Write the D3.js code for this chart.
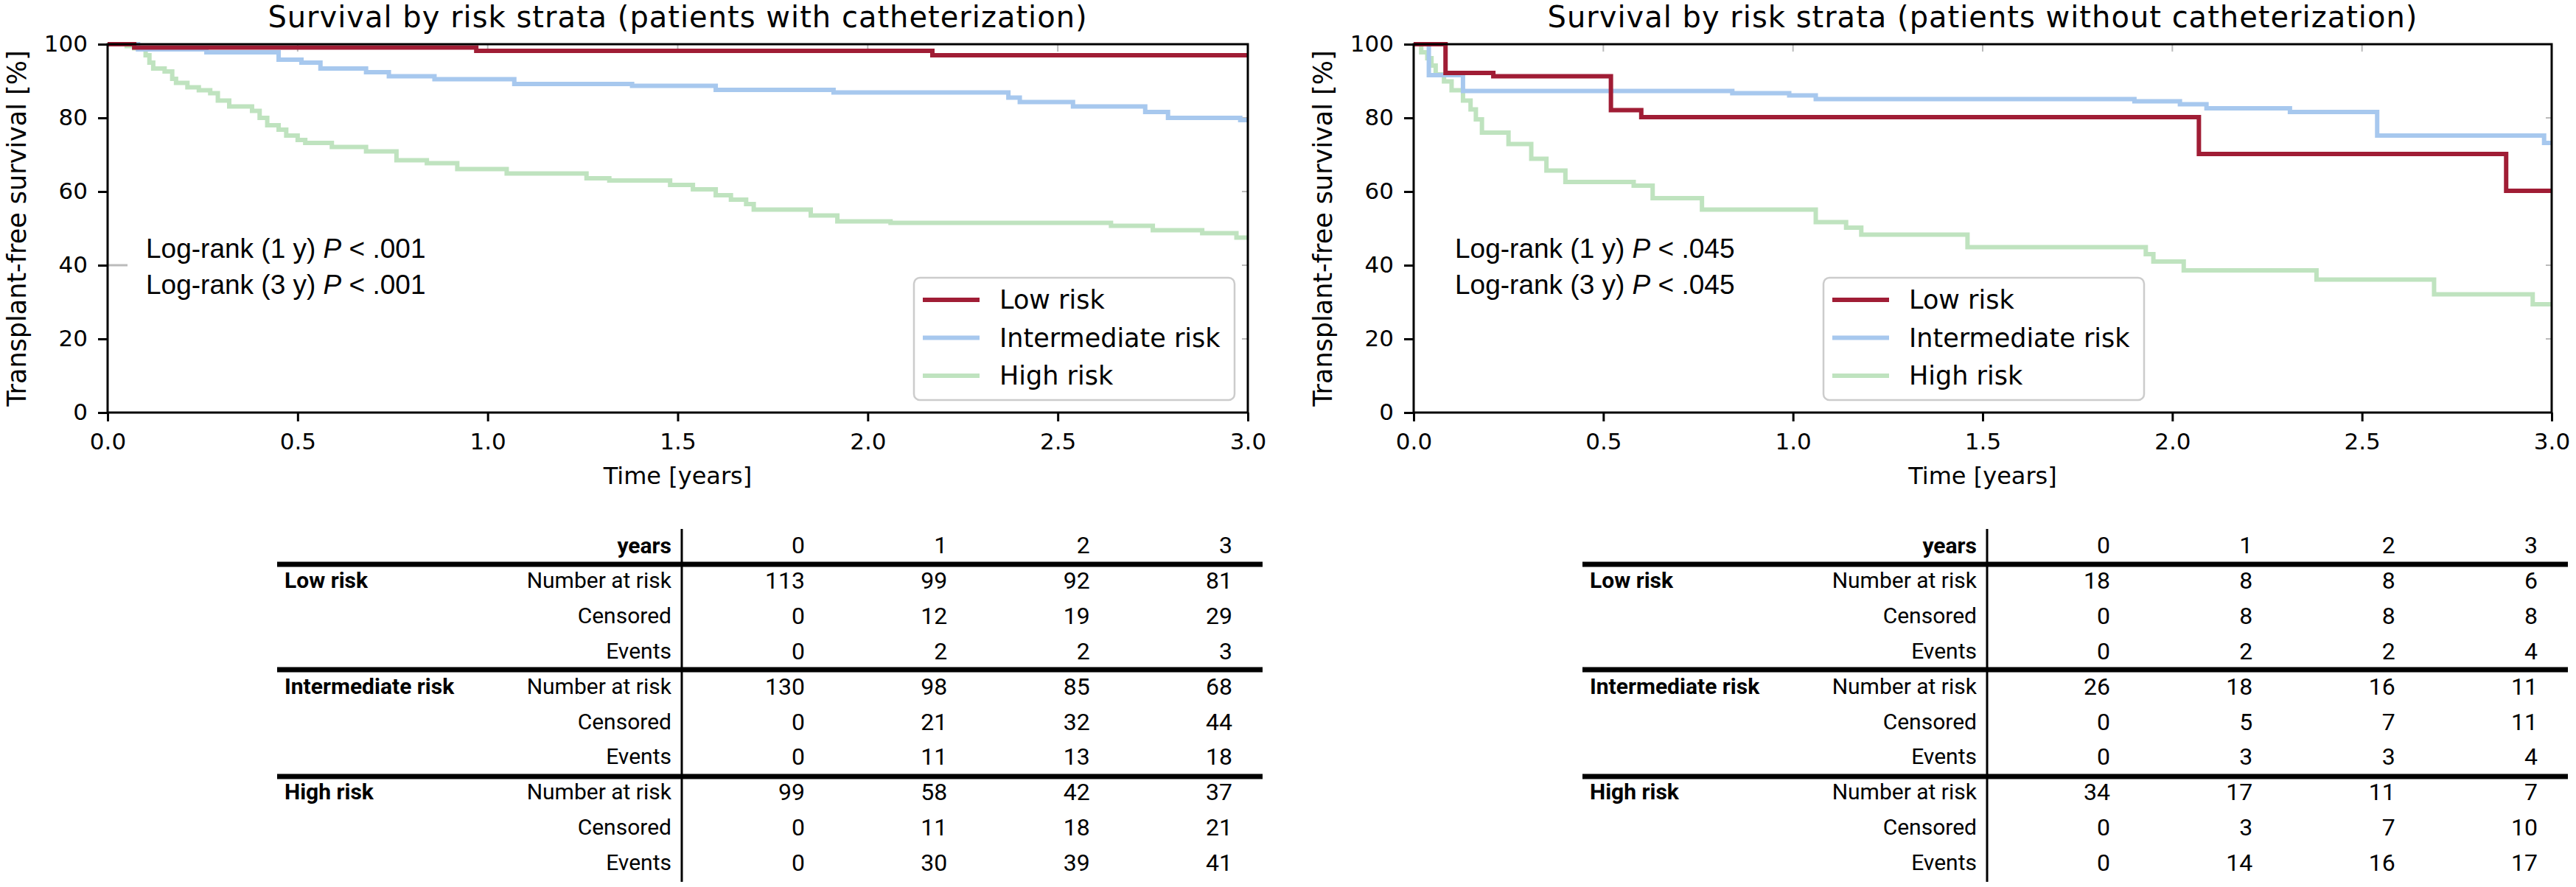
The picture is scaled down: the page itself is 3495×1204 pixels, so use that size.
<!DOCTYPE html>
<html>
<head>
<meta charset="utf-8">
<script src="https://cdn.jsdelivr.net/npm/d3@7"></script>
<style>
  body { margin: 0; background: #fff; }
  text { font-family: "DejaVu Sans", sans-serif; fill: #000; }
  .note { font-family: "Liberation Sans", Arial, sans-serif; }
  .tbl { font-family: Roboto, "DejaVu Sans", sans-serif; }
</style>
</head>
<body>
<svg id="chart"></svg>
<script>
const width = 3495, height = 1204;

// Kaplan-Meier steps: [time in years, survival %]
const withLow = [[0, 100], [0.07, 99.1], [0.97, 98.2], [2.17, 97.0]];
const withInter = [[0, 100], [0.08, 98.6], [0.26, 97.8], [0.45, 95.8], [0.51, 95.0], [0.56, 93.4],
  [0.68, 92.4], [0.74, 91.3], [0.86, 90.5], [1.07, 89.2], [1.38, 88.7], [1.6, 87.6], [1.91, 86.9],
  [2.37, 85.5], [2.4, 84.3], [2.54, 83.1], [2.73, 81.6], [2.79, 80.0], [2.98, 79.4]];
const withHigh = [[0, 100], [0.05, 99.5], [0.07, 98.9], [0.1, 97.0], [0.11, 95.0], [0.12, 93.4],
  [0.15, 92.6], [0.17, 90.6], [0.18, 89.5], [0.21, 88.3], [0.24, 87.5], [0.27, 86.7], [0.29, 84.7],
  [0.32, 83.1], [0.38, 81.9], [0.4, 80.0], [0.42, 78.0], [0.45, 76.8], [0.47, 75.2], [0.5, 74.0],
  [0.52, 73.2], [0.59, 72.1], [0.68, 70.9], [0.76, 68.5], [0.84, 67.7], [0.92, 66.1], [1.05, 64.9],
  [1.26, 63.6], [1.32, 63.0], [1.48, 61.8], [1.54, 60.6], [1.6, 59.0], [1.64, 57.8], [1.68, 56.6],
  [1.7, 55.1], [1.85, 53.5], [1.92, 51.9], [2.06, 51.5], [2.64, 50.7], [2.75, 49.5], [2.88, 48.7],
  [2.97, 47.5]];

const withoutLow = [[0, 100], [0.084, 92.2], [0.21, 91.3], [0.52, 82.1], [0.6, 80.2], [2.07, 70.2],
  [2.88, 60.2]];
const withoutInter = [[0, 100], [0.04, 91.6], [0.13, 87.3], [0.84, 86.7], [0.99, 86.1], [1.06, 85.1],
  [1.9, 84.5], [2.02, 83.7], [2.09, 82.6], [2.31, 81.6], [2.54, 75.2], [2.98, 73.2]];
const withoutHigh = [[0, 100], [0.02, 97.8], [0.036, 96.2], [0.047, 94.2], [0.058, 91.8], [0.08, 89.9],
  [0.1, 87.5], [0.13, 84.7], [0.15, 82.3], [0.164, 79.6], [0.18, 76.0], [0.25, 72.9], [0.31, 68.9],
  [0.35, 65.7], [0.4, 62.6], [0.58, 61.6], [0.63, 58.2], [0.76, 55.1], [1.06, 51.7], [1.14, 50.2],
  [1.18, 48.3], [1.46, 44.9], [1.93, 43.0], [1.95, 41.0], [2.03, 38.6], [2.38, 36.1], [2.69, 32.1],
  [2.95, 29.4]];

const strata = ["Low risk", "Intermediate risk", "High risk"];
const colors = ["#a01d35", "#a7c8ee", "#bfe3bf"];
const xTicks = [0, 0.5, 1, 1.5, 2, 2.5, 3];
const yTicks = [0, 20, 40, 60, 80, 100];

// number-at-risk tables
const tableYears = [0, 1, 2, 3];
const rowNames = ["Number at risk", "Censored", "Events"];
const withAtRisk = [[113, 99, 92, 81], [130, 98, 85, 68], [99, 58, 42, 37]];
const withCensored = [[0, 12, 19, 29], [0, 21, 32, 44], [0, 11, 18, 21]];
const withEvents = [[0, 2, 2, 3], [0, 11, 13, 18], [0, 30, 39, 41]];
const withoutAtRisk = [[18, 8, 8, 6], [26, 18, 16, 11], [34, 17, 11, 7]];
const withoutCensored = [[0, 8, 8, 8], [0, 5, 7, 11], [0, 3, 7, 10]];
const withoutEvents = [[0, 2, 2, 4], [0, 3, 3, 4], [0, 14, 16, 17]];

const panels = [
  { title: "Survival by risk strata (patients with catheterization)", x0: 146, x1: 1693,
    curves: [withLow, withInter, withHigh], pValue: ".001", textX: 198, legendX: 1240,
    table: [withAtRisk, withCensored, withEvents], tableX: 925, stray: [40] },
  { title: "Survival by risk strata (patients without catheterization)", x0: 1918, x1: 3462,
    curves: [withoutLow, withoutInter, withoutHigh], pValue: ".045", textX: 1974, legendX: 2474,
    table: [withoutAtRisk, withoutCensored, withoutEvents], tableX: 2696, stray: [] }
];

const plotTop = 60, plotBottom = 560;

const svg = d3.select("#chart")
  .attr("width", width)
  .attr("height", height);

svg.append("rect").attr("width", width).attr("height", height).attr("fill", "#fff");

panels.forEach(p => {
  const x = d3.scaleLinear().domain([0, 3]).range([p.x0, p.x1]);
  const y = d3.scaleLinear().domain([0, 100]).range([plotBottom, plotTop]);
  const g = svg.append("g");

  // faint inner ticks on top and right edges
  g.selectAll(".tt").data(xTicks).enter().append("line")
    .attr("x1", d => x(d)).attr("x2", d => x(d))
    .attr("y1", plotTop).attr("y2", plotTop + 10)
    .attr("stroke", "#bbb").attr("stroke-width", 2);
  g.selectAll(".rt").data(yTicks).enter().append("line")
    .attr("x1", p.x1 - 8).attr("x2", p.x1)
    .attr("y1", d => y(d)).attr("y2", d => y(d))
    .attr("stroke", "#bbb").attr("stroke-width", 2);
  g.selectAll(".st").data(p.stray).enter().append("line")
    .attr("x1", p.x0).attr("x2", p.x0 + 27)
    .attr("y1", d => y(d)).attr("y2", d => y(d))
    .attr("stroke", "#bbb").attr("stroke-width", 3);

  // survival curves, high risk first so low risk sits on top
  const line = d3.line()
    .x(d => x(d[0]))
    .y(d => y(d[1]))
    .curve(d3.curveStepAfter);
  [2, 1, 0].forEach(i => {
    const c = p.curves[i];
    const pts = c.concat([[3, c[c.length - 1][1]]]);
    g.append("path")
      .attr("d", line(pts))
      .attr("fill", "none")
      .attr("stroke", colors[i])
      .attr("stroke-width", 6);
  });

  // frame
  g.append("rect")
    .attr("x", p.x0).attr("y", plotTop)
    .attr("width", p.x1 - p.x0).attr("height", plotBottom - plotTop)
    .attr("fill", "none").attr("stroke", "#000").attr("stroke-width", 3);

  // axes
  const xAxis = g.append("g")
    .attr("transform", `translate(0,${plotBottom})`)
    .call(d3.axisBottom(x).tickValues(xTicks).tickFormat(d3.format(".1f"))
      .tickSize(12).tickSizeOuter(0).tickPadding(16));
  const yAxis = g.append("g")
    .attr("transform", `translate(${p.x0},0)`)
    .call(d3.axisLeft(y).tickValues(yTicks).tickSize(13).tickSizeOuter(0).tickPadding(14));
  [xAxis, yAxis].forEach(a => {
    a.select(".domain").remove();
    a.selectAll(".tick line").attr("stroke", "#000").attr("stroke-width", 3);
    a.selectAll(".tick text").style("font-size", "31px").attr("fill", "#000");
  });

  g.append("text")
    .attr("x", (p.x0 + p.x1) / 2).attr("y", 37)
    .attr("text-anchor", "middle")
    .style("font-size", "40px")
    .style("letter-spacing", "1px")
    .text(p.title);

  g.append("text")
    .attr("x", (p.x0 + p.x1) / 2).attr("y", 657)
    .attr("text-anchor", "middle")
    .style("font-size", "32px")
    .text("Time [years]");

  g.append("text")
    .attr("transform", `translate(${p.x0 - 111},${(plotTop + plotBottom) / 2}) rotate(-90)`)
    .attr("text-anchor", "middle")
    .style("font-size", "35px")
    .text("Transplant-free survival [%]");

  // log-rank annotation
  ["1 y", "3 y"].forEach((lab, i) => {
    const t = g.append("text")
      .attr("class", "note")
      .attr("x", p.textX).attr("y", 350 + i * 49)
      .style("font-size", "37px");
    t.append("tspan").text(`Log-rank (${lab}) `);
    t.append("tspan").style("font-style", "italic").text("P");
    t.append("tspan").text(" < " + p.pValue);
  });

  // legend
  const lg = g.append("g").attr("transform", `translate(${p.legendX},377)`);
  lg.append("rect")
    .attr("width", 435).attr("height", 166).attr("rx", 8)
    .attr("fill", "#fff").attr("fill-opacity", 0.8)
    .attr("stroke", "#ccc").attr("stroke-width", 2.5);
  strata.forEach((s, i) => {
    const yy = 30 + i * 51.5;
    lg.append("line")
      .attr("x1", 12).attr("x2", 89).attr("y1", yy).attr("y2", yy)
      .attr("stroke", colors[i]).attr("stroke-width", 6);
    lg.append("text")
      .attr("x", 116).attr("y", yy + 12)
      .style("font-size", "35px")
      .text(s);
  });

  // at-risk table
  const tg = g.append("g").attr("class", "tbl");
  const vx = p.tableX;
  const col = d3.scaleLinear().domain([0, 3]).range([vx + 167, vx + 747]);
  const row = d3.scaleLinear().domain([0, 8]).range([787, 1170]);
  const fs = "30px", fn = "32px";

  tg.append("text").attr("class", "tbl").attr("x", vx - 14).attr("y", 751)
    .attr("text-anchor", "end").style("font-size", fs).style("font-weight", "bold")
    .text("years");
  tableYears.forEach((yr, j) => {
    tg.append("text").attr("class", "tbl").attr("x", col(j)).attr("y", 751)
      .attr("text-anchor", "end").style("font-size", fn).text(yr);
  });

  strata.forEach((s, gi) => {
    tg.append("text").attr("class", "tbl").attr("x", vx - 539).attr("y", row(gi * 3) + 11)
      .style("font-size", fs).style("font-weight", "bold").text(s);
    rowNames.forEach((rn, ri) => {
      const yy = row(gi * 3 + ri) + 11;
      tg.append("text").attr("class", "tbl").attr("x", vx - 14).attr("y", yy)
        .attr("text-anchor", "end").style("font-size", fs).attr("fill", "#222").text(rn);
      p.table[ri][gi].forEach((v, j) => {
        tg.append("text").attr("class", "tbl").attr("x", col(j)).attr("y", yy + 1)
          .attr("text-anchor", "end").style("font-size", fn).text(v);
      });
    });
  });

  [766, 909, 1054].forEach(ly => {
    tg.append("line")
      .attr("x1", vx - 549).attr("x2", vx + 788)
      .attr("y1", ly).attr("y2", ly)
      .attr("stroke", "#000").attr("stroke-width", 7);
  });
  tg.append("line")
    .attr("x1", vx).attr("x2", vx)
    .attr("y1", 718).attr("y2", 1197)
    .attr("stroke", "#000").attr("stroke-width", 3);
});
</script>
</body>
</html>
